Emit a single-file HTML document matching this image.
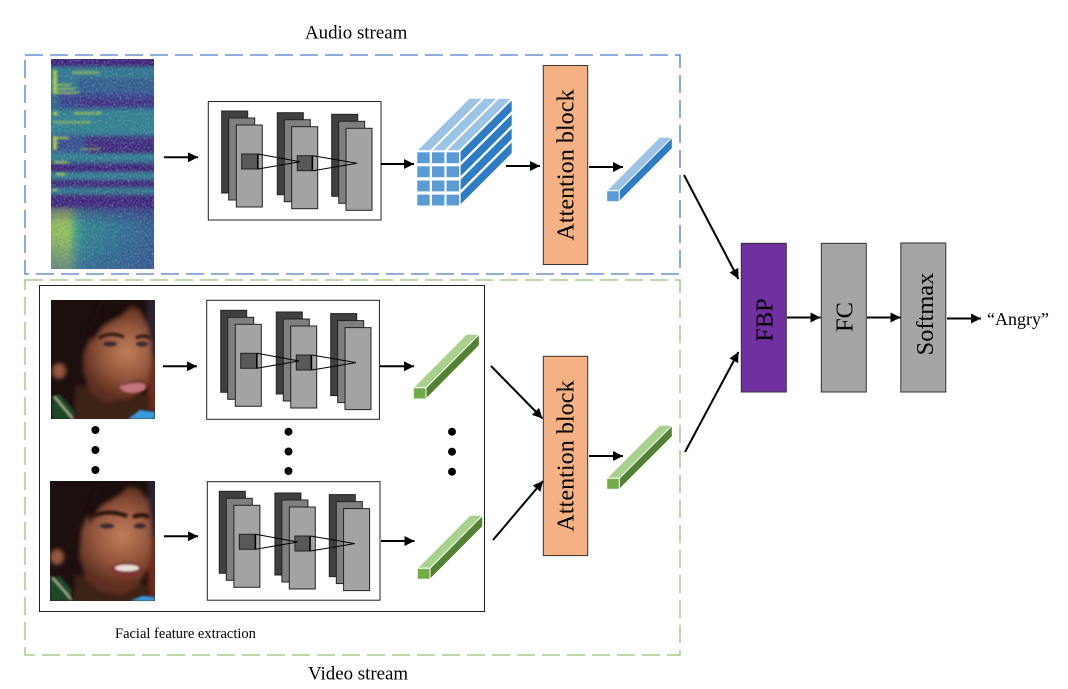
<!DOCTYPE html>
<html>
<head>
<meta charset="utf-8">
<style>
html,body{margin:0;padding:0;background:#fff;width:1068px;height:689px;overflow:hidden}
svg{display:block}
text{font-family:"Liberation Serif",serif;fill:#000}
</style>
</head>
<body>
<svg width="1068" height="689" viewBox="0 0 1068 689" xmlns="http://www.w3.org/2000/svg">
<defs>
<marker id="a" markerUnits="userSpaceOnUse" markerWidth="12" markerHeight="12" refX="10" refY="5" orient="auto"><path d="M0 0L10 5L0 10z" fill="#000"/></marker>
<filter id="b1" x="-20%" y="-20%" width="140%" height="140%"><feGaussianBlur stdDeviation="1"/></filter>
<filter id="b15" x="-10%" y="-10%" width="120%" height="120%"><feGaussianBlur stdDeviation="1.5"/></filter>
<filter id="b2" x="-30%" y="-30%" width="160%" height="160%"><feGaussianBlur stdDeviation="2"/></filter>
<filter id="noise" x="0" y="0" width="100%" height="100%"><feTurbulence type="fractalNoise" baseFrequency="0.5 0.55" numOctaves="2" seed="4"/><feColorMatrix values="0 0 0 0 0.2  0 0 0 0 0.12  0 0 0 0 0.48  1.6 1.6 0 0 -1.35"/></filter>
<filter id="noise2" x="0" y="0" width="100%" height="100%"><feTurbulence type="fractalNoise" baseFrequency="0.5 0.45" numOctaves="2" seed="11"/><feColorMatrix values="0 0 0 0 0.2  0 0 0 0 0.65  0 0 0 0 0.55  1.6 1.6 0 0 -1.55"/></filter>
<linearGradient id="lowg" x1="0" y1="0" x2="1" y2="0"><stop offset="0" stop-color="#8cc455"/><stop offset=".2" stop-color="#a2cf4a"/><stop offset=".26" stop-color="#4caf7a"/><stop offset=".33" stop-color="#2a8a8c"/><stop offset=".7" stop-color="#2b6f8d"/><stop offset="1" stop-color="#30598c"/></linearGradient>
<linearGradient id="fadeD" x1="0" y1="0" x2="0" y2="1"><stop offset="0" stop-color="#3b1c72"/><stop offset="1" stop-color="#3b1c72" stop-opacity="0"/></linearGradient>
<linearGradient id="fadeB" x1="0" y1="0" x2="0" y2="1"><stop offset="0" stop-color="#30508c" stop-opacity="0"/><stop offset="1" stop-color="#30508c" stop-opacity=".55"/></linearGradient>
<radialGradient id="skin1" gradientUnits="userSpaceOnUse" cx="127" cy="352" r="46"><stop offset="0" stop-color="#c07f5c"/><stop offset=".55" stop-color="#95573d"/><stop offset="1" stop-color="#5e2f20"/></radialGradient>
<radialGradient id="skin2" gradientUnits="userSpaceOnUse" cx="122" cy="535" r="50"><stop offset="0" stop-color="#c07f5c"/><stop offset=".55" stop-color="#95573d"/><stop offset="1" stop-color="#5e2f20"/></radialGradient>
<clipPath id="sp"><rect x="51" y="59" width="103" height="210"/></clipPath>
<clipPath id="f1"><rect x="51" y="300" width="104" height="119"/></clipPath>
<clipPath id="f2"><rect x="50" y="481" width="105" height="120"/></clipPath>
<g id="cnn" stroke-width="1">
 <g stroke="#222"><rect x="221.7" y="111" width="26" height="82" fill="#404040"/><rect x="228.7" y="118" width="26" height="82" fill="#7f7f7f"/><rect x="236.3" y="125" width="26" height="82" fill="#a3a3a3"/>
 <rect x="277.3" y="112.7" width="26" height="82" fill="#404040"/><rect x="284.3" y="119.7" width="26" height="82" fill="#7f7f7f"/><rect x="291.7" y="126.7" width="26" height="82" fill="#a3a3a3"/>
 <rect x="331.7" y="114.3" width="26" height="82" fill="#404040"/><rect x="338.7" y="121.3" width="26" height="82" fill="#7f7f7f"/><rect x="346" y="128.3" width="26" height="82" fill="#a3a3a3"/></g>
 <rect x="241.7" y="154" width="16" height="15" fill="#595959" stroke="#222"/><rect x="257" y="154" width="1.6" height="15" fill="#000"/>
 <rect x="297.3" y="155.7" width="15" height="15" fill="#595959" stroke="#222"/><rect x="311.6" y="155.7" width="1.6" height="15" fill="#000"/>
 <path d="M258 154L300 161.7L258 169M313 155.7L357 163.3L313 170.7" fill="none" stroke="#000"/>
</g>
</defs>
<rect width="1068" height="689" fill="#fff"/>

<!-- dashed containers -->
<rect x="25" y="55" width="655" height="219" fill="none" stroke="#4f7bcb" stroke-width="1.3" stroke-dasharray="18 7"/>
<rect x="25" y="280" width="655" height="375" fill="none" stroke="#93c278" stroke-width="1.3" stroke-dasharray="18 7"/>
<rect x="39.5" y="285.5" width="445" height="326" fill="#fff" stroke="#222" stroke-width="1"/>

<text x="305" y="38.5" font-size="18.9">Audio stream</text>
<text x="308" y="679.5" font-size="18.9">Video stream</text>
<text x="115" y="638" font-size="14.5">Facial feature extraction</text>

<!-- spectrogram -->
<g clip-path="url(#sp)">
 <rect x="51" y="59" width="103" height="210" fill="#2f6489"/>
 <g filter="url(#b15)">
  <rect x="45" y="55" width="115" height="12" fill="#3b1c72"/>
  <rect x="45" y="67" width="115" height="26" fill="#2a7a8d"/>
  <rect x="78" y="78" width="85" height="15" fill="#2f5d8c"/>
  <rect x="60" y="93" width="100" height="15" fill="#35408a"/>
  <rect x="80" y="99" width="80" height="7" fill="#3a2a7c"/>
  <rect x="45" y="110" width="115" height="24" fill="#2a858c"/>
  <rect x="45" y="136" width="115" height="15" fill="#31508c"/>
  <rect x="85" y="137" width="75" height="14" fill="#3b2676"/>
  <rect x="88" y="151" width="70" height="3" fill="#3b1c72"/>
  <rect x="45" y="154" width="115" height="6" fill="#2a858c"/>
  <rect x="45" y="164" width="115" height="8" fill="#3b1c72"/>
  <rect x="45" y="173" width="115" height="6" fill="#2a858c"/>
  <rect x="45" y="179" width="115" height="9" fill="#3b2676"/>
  <rect x="45" y="188" width="115" height="6" fill="#2c7a8c"/>
  <rect x="45" y="194" width="115" height="14" fill="#3a2a78"/>
  <rect x="45" y="208" width="115" height="65" fill="url(#lowg)"/>
  <rect x="45" y="198" width="115" height="26" fill="url(#fadeD)" opacity=".85"/>
  <rect x="45" y="235" width="115" height="38" fill="url(#fadeB)"/>
 </g>
 <g filter="url(#b1)" fill="#b6d935">
  <rect x="53" y="70" width="4" height="24"/><rect x="57" y="84" width="14" height="1.5"/><rect x="57" y="88" width="18" height="1.5"/><rect x="57" y="92" width="22" height="1.5"/>
  <rect x="53" y="112" width="5" height="3"/><rect x="74" y="112" width="28" height="2.5" opacity=".7"/><rect x="53" y="121" width="38" height="2.5" opacity=".6"/>
  <rect x="53" y="136" width="4" height="14"/><rect x="57" y="137" width="12" height="2"/><rect x="54" y="161" width="14" height="2.5" opacity=".8"/>
  <rect x="56" y="173" width="9" height="2.5"/><rect x="52" y="189" width="6" height="2.5" opacity=".7"/>
  <rect x="72" y="71" width="27" height="3" opacity=".6"/>
  <rect x="80" y="148" width="20" height="2" opacity=".6"/>
 </g>
 <rect x="51" y="59" width="103" height="210" filter="url(#noise)" opacity=".55"/>
 <rect x="51" y="59" width="103" height="210" filter="url(#noise2)" opacity=".45"/>
</g>

<!-- CNN blocks -->
<rect x="208.3" y="101.5" width="172.7" height="118.5" fill="#fff" stroke="#222"/>
<use href="#cnn"/>
<rect x="206.7" y="300.3" width="172.7" height="119" fill="#fff" stroke="#222"/>
<use href="#cnn" transform="translate(-1 199.3)"/>
<rect x="207.3" y="481.7" width="172.7" height="118.5" fill="#fff" stroke="#222"/>
<use href="#cnn" transform="translate(-2.4 380.3)"/>

<!-- cube -->
<g stroke="#fff" stroke-width="1.6">
 <path d="M416 151 L430.5 151 L483.5 98 L469 98z" fill="#9dc3e6"/>
 <path d="M431 151 L445 151 L498 98 L484 98z" fill="#9dc3e6"/>
 <path d="M445.5 151 L459.5 151 L512.5 98 L498.5 98z" fill="#9dc3e6"/>
 <path d="M459.5 151.5 L459.5 164.5 L512.5 111.5 L512.5 98.5z" fill="#2e7cc4"/>
 <path d="M459.5 165.5 L459.5 178.5 L512.5 125.5 L512.5 112.5z" fill="#2e7cc4"/>
 <path d="M459.5 179.5 L459.5 192.5 L512.5 139.5 L512.5 126.5z" fill="#2e7cc4"/>
 <path d="M459.5 193.5 L459.5 206.5 L512.5 153.5 L512.5 140.5z" fill="#2e7cc4"/>
 <g fill="#5b9bd5">
  <rect x="416.5" y="151.5" width="14" height="12.5"/><rect x="431.2" y="151.5" width="14" height="12.5"/><rect x="445.8" y="151.5" width="14" height="12.5"/>
  <rect x="416.5" y="165.5" width="14" height="12.5"/><rect x="431.2" y="165.5" width="14" height="12.5"/><rect x="445.8" y="165.5" width="14" height="12.5"/>
  <rect x="416.5" y="179.7" width="14" height="12.5"/><rect x="431.2" y="179.7" width="14" height="12.5"/><rect x="445.8" y="179.7" width="14" height="12.5"/>
  <rect x="416.5" y="193.8" width="14" height="12.5"/><rect x="431.2" y="193.8" width="14" height="12.5"/><rect x="445.8" y="193.8" width="14" height="12.5"/>
 </g>
</g>

<!-- bars -->
<g stroke="#fff" stroke-width="1">
 <path d="M606.7 190.7L619.2 190.7L672.3 137.3L659.5 137.3z" fill="#9dc3e6"/>
 <path d="M619.2 190.7L619.2 201.7L672.3 148.5L672.3 137.3z" fill="#2e7cc4"/>
 <rect x="606.7" y="190.7" width="12.5" height="11" fill="#5b9bd5"/>
 <path d="M413.3 387.7L426 387.7L479.3 334.3L466.5 334.3z" fill="#a9d18e"/>
 <path d="M426 387.7L426 399L479.3 345.5L479.3 334.3z" fill="#548235"/>
 <rect x="413.3" y="387.7" width="12.7" height="11.3" fill="#70ad47"/>
 <path d="M417.3 568.3L430 568.3L482.7 515.3L470 515.3z" fill="#a9d18e"/>
 <path d="M430 568.3L430 579.3L482.7 526.5L482.7 515.3z" fill="#548235"/>
 <rect x="417.3" y="568.3" width="12.7" height="11" fill="#70ad47"/>
 <path d="M606.7 478.3L619.3 478.3L672.3 425.3L659.5 425.3z" fill="#a9d18e"/>
 <path d="M619.3 478.3L619.3 489.3L672.3 436.5L672.3 425.3z" fill="#548235"/>
 <rect x="606.7" y="478.3" width="12.6" height="11" fill="#70ad47"/>
</g>

<!-- faces -->
<g clip-path="url(#f1)">
 <rect x="51" y="300" width="104" height="119" fill="#1c0f0e"/>
 <g filter="url(#b2)">
  <rect x="147" y="296" width="13" height="60" fill="#2a2030"/>
  <rect x="147" y="356" width="13" height="55" fill="#6e2c1c"/>
  <path d="M76 385L150 395L150 425H72z" fill="#3e2016"/>
  <path d="M128 306L140 309L147 325L151 345L151 365L147 385L130 399L105 402L90 392L83 372L83 354L90 338L100 324L112 315z" fill="url(#skin1)"/>
  <path d="M100 300L136 302L122 316L104 326L92 342L88 328z" fill="#1c0f0e"/>
  <ellipse cx="59" cy="371" rx="7" ry="8" fill="#95573d"/>
 </g>
 <g filter="url(#b1)">
  <path d="M99 338Q110 331 124 337" stroke="#2a1510" stroke-width="3" fill="none"/>
  <path d="M136 338Q143 334 151 338" stroke="#2a1510" stroke-width="3" fill="none"/>
  <ellipse cx="110" cy="344" rx="7" ry="2.5" fill="#3a2a30"/>
  <ellipse cx="142" cy="344" rx="6" ry="2.5" fill="#3a2a30"/>
  <ellipse cx="133" cy="387" rx="13" ry="6" fill="#c4757a"/>
  <path d="M122 385Q133 380 145 383" stroke="#3e1414" stroke-width="1.6" fill="none"/>
  <path d="M52 397L60 394L75 412L73 419H52z" fill="#1e4a2c"/>
  <path d="M54 396L73 419" stroke="#d9d9b0" stroke-width="1.2"/>
  <path d="M128 419L140 410L155 412V419z" fill="#3a9be0"/>
 </g>
</g>
<g clip-path="url(#f2)">
 <rect x="50" y="481" width="105" height="120" fill="#1c0f0e"/>
 <g filter="url(#b2)">
  <rect x="148" y="477" width="12" height="60" fill="#2a2030"/>
  <rect x="148" y="537" width="12" height="60" fill="#6e2c1c"/>
  <path d="M75 575L150 585L150 605H72z" fill="#3e2016"/>
  <path d="M124 487L138 488L148 500L151 525L151 550L148 568L138 586L123 595L102 592L86 580L79 556L81 530L90 510L106 495z" fill="url(#skin2)"/>
  <path d="M98 481L134 483L118 497L102 506L90 524L86 510z" fill="#1c0f0e"/>
  <ellipse cx="57" cy="557" rx="7" ry="8" fill="#95573d"/>
 </g>
 <g filter="url(#b1)">
  <path d="M93 516Q108 509 127 516" stroke="#2a1510" stroke-width="4" fill="none"/>
  <path d="M133 517Q141 513 149 517" stroke="#2a1510" stroke-width="4" fill="none"/>
  <ellipse cx="107" cy="526" rx="7" ry="2.5" fill="#3a2a30"/>
  <ellipse cx="140" cy="526" rx="6" ry="2.5" fill="#3a2a30"/>
  <ellipse cx="127" cy="570" rx="16" ry="8" fill="#7e3532"/>
  <ellipse cx="127" cy="568" rx="12" ry="3.2" fill="#ece0da"/>
  <path d="M50 578L60 576L72 590L70 601H50z" fill="#1e4a2c"/>
  <path d="M52 577L72 600" stroke="#d9d9b0" stroke-width="1.2"/>
  <path d="M130 601L142 596L155 597V601z" fill="#3a9be0"/>
 </g>
</g>

<!-- dots -->
<g fill="#000">
 <circle cx="95.4" cy="430" r="4"/><circle cx="95.4" cy="450" r="4"/><circle cx="95.4" cy="470" r="4"/>
 <circle cx="288.5" cy="431.7" r="4"/><circle cx="288.5" cy="451.5" r="4"/><circle cx="288.5" cy="471" r="4"/>
 <circle cx="452" cy="431.7" r="4"/><circle cx="452" cy="451.7" r="4"/><circle cx="452" cy="471.7" r="4"/>
</g>

<!-- blocks -->
<g stroke="#333" stroke-width="1">
 <rect x="543.3" y="65.5" width="44.4" height="199" fill="#f4b183"/>
 <rect x="543.3" y="356.3" width="44.4" height="199.3" fill="#f4b183"/>
 <rect x="741.3" y="243.3" width="45" height="148.7" fill="#7030a0"/>
 <rect x="821.3" y="243.3" width="45" height="148.7" fill="#a5a5a5"/>
 <rect x="900.8" y="243" width="45" height="149" fill="#a5a5a5"/>
</g>
<text transform="translate(573.5 165) rotate(-90)" text-anchor="middle" font-size="24.2">Attention block</text>
<text transform="translate(573.5 456) rotate(-90)" text-anchor="middle" font-size="24.2">Attention block</text>
<text transform="translate(772.5 320) rotate(-90)" text-anchor="middle" font-size="24.5">FBP</text>
<text transform="translate(852.5 317) rotate(-90)" text-anchor="middle" font-size="24.5">FC</text>
<text transform="translate(933 314) rotate(-90)" text-anchor="middle" font-size="24.4">Softmax</text>
<text x="987" y="325" font-size="18">“Angry”</text>

<!-- arrows -->
<g stroke="#000" stroke-width="2" fill="none" marker-end="url(#a)">
 <line x1="164" y1="157.3" x2="198" y2="157.3"/>
 <line x1="381" y1="164" x2="414" y2="164"/>
 <line x1="506" y1="166" x2="540" y2="166"/>
 <line x1="589" y1="167" x2="623" y2="167"/>
 <line x1="163" y1="366.3" x2="197" y2="366.3"/>
 <line x1="164" y1="536.3" x2="198" y2="536.3"/>
 <line x1="380" y1="366.3" x2="414" y2="366.3"/>
 <line x1="381" y1="541" x2="414.5" y2="541"/>
 <line x1="491" y1="366" x2="542.5" y2="418.5"/>
 <line x1="493" y1="540" x2="543" y2="481"/>
 <line x1="589" y1="456" x2="623" y2="456"/>
 <line x1="684" y1="175" x2="738.5" y2="279"/>
 <line x1="685" y1="452" x2="738.5" y2="352"/>
 <line x1="787" y1="317.5" x2="820.5" y2="317.5"/>
 <line x1="867" y1="317.5" x2="900.5" y2="317.5"/>
 <line x1="947" y1="318.5" x2="981" y2="318.5"/>
</g>
</svg>
</body>
</html>
